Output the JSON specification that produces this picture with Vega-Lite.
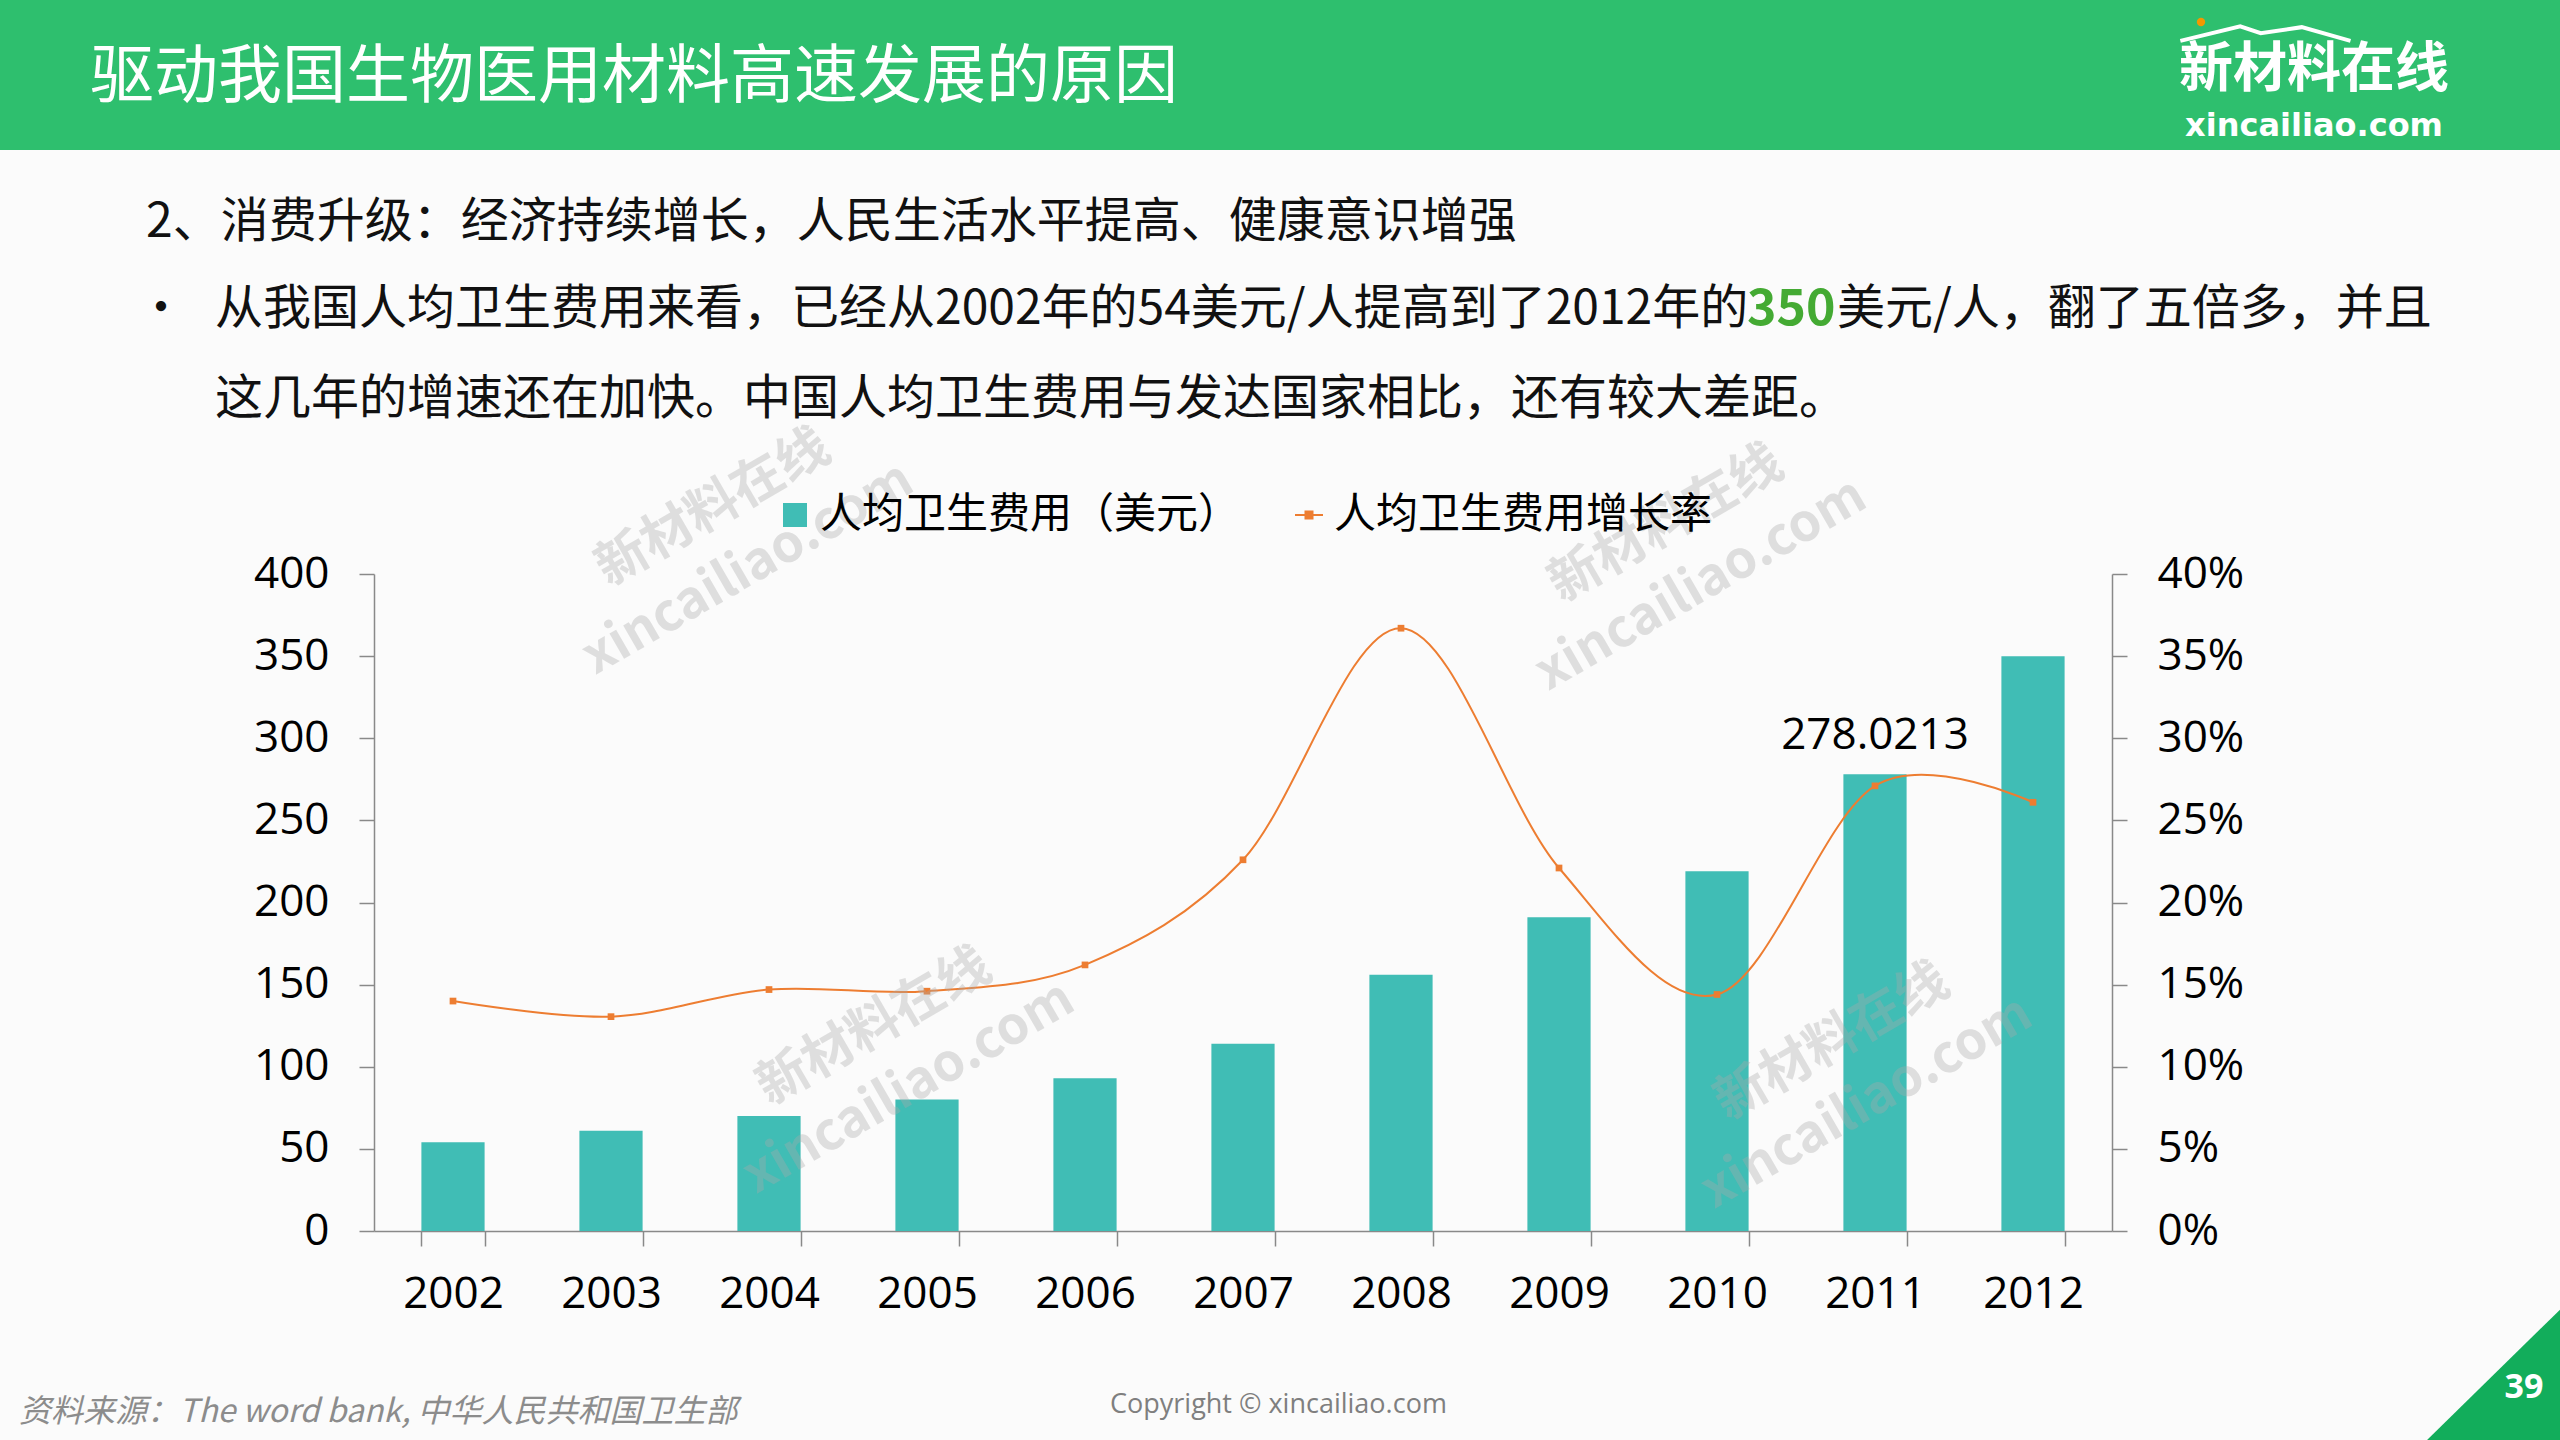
{
  "$schema": "https://vega.github.io/schema/vega-lite/v6.json",
  "width": 1738,
  "height": 657,
  "autosize": {"type": "none"},
  "padding": {"left": 374, "top": 574, "right": 448, "bottom": 209},
  "background": "#FBFBFB",
  "config": {"view": {"stroke": null}, "font": "Noto Sans CJK SC", "axis": {"grid": false}},
  "datasets": {
    "health": [
      {"year": "2002", "cost": 54, "rate": 0.140},
      {"year": "2003", "cost": 61, "rate": 0.1305},
      {"year": "2004", "cost": 70, "rate": 0.147},
      {"year": "2005", "cost": 80, "rate": 0.146},
      {"year": "2006", "cost": 93, "rate": 0.162},
      {"year": "2007", "cost": 114, "rate": 0.226},
      {"year": "2008", "cost": 156, "rate": 0.367},
      {"year": "2009", "cost": 191, "rate": 0.221},
      {"year": "2010", "cost": 219, "rate": 0.144},
      {"year": "2011", "cost": 278.0213, "rate": 0.271},
      {"year": "2012", "cost": 350, "rate": 0.261}
    ],
    "wm": [{"t": "新材料在线\nxincailiao.com"}]
  },
  "data": {"name": "health"},
  "layer": [
    {"data": {"values": [{}]}, "mark": {"type": "rect", "x": -374, "x2": 2186, "y": -574, "y2": -424, "color": "#2EBF6E"}, "encoding": {}},
    {"data": {"values": [{"t": "驱动我国生物医用材料高速发展的原因"}]}, "mark": {"type": "text", "x": -284, "y": -496, "align": "left", "baseline": "middle", "fontSize": 64, "color": "#FFFFFF"}, "encoding": {"text": {"field": "t"}}},
    {"data": {"values": [{"t": "新材料在线"}]}, "mark": {"type": "text", "x": 1940, "y": -503, "align": "center", "baseline": "middle", "fontSize": 54, "fontWeight": "bold", "color": "#FFFFFF"}, "encoding": {"text": {"field": "t"}}},
    {"data": {"values": [{"t": "xincailiao.com"}]}, "mark": {"type": "text", "x": 1940, "y": -448, "align": "center", "baseline": "middle", "fontSize": 32, "fontWeight": "bold", "font": "DejaVu Sans", "color": "#FFFFFF"}, "encoding": {"text": {"field": "t"}}},
    {"data": {"values": [{}]}, "mark": {"type": "point", "x": 1891, "y": -540, "shape": "M-0.99,0.08L-0.29,-0.09L-0.05,-0.01L0.43,-0.08L1.0,0.08", "size": 29241, "filled": false, "stroke": "#FFFFFF", "strokeWidth": 4, "opacity": 1}, "encoding": {}},
    {"data": {"values": [{}]}, "mark": {"type": "point", "x": 1827, "y": -552, "shape": "circle", "size": 70, "filled": true, "color": "#F39800", "opacity": 1}, "encoding": {}},
    {"data": {"values": [{"t": "2、消费升级：经济持续增长，人民生活水平提高、健康意识增强"}]}, "mark": {"type": "text", "x": -228, "y": -351, "align": "left", "baseline": "middle", "fontSize": 48, "color": "#111111"}, "encoding": {"text": {"field": "t"}}},
    {"data": {"values": [{"t": "•"}]}, "mark": {"type": "text", "x": -213, "y": -264, "align": "center", "baseline": "middle", "fontSize": 48, "color": "#111111"}, "encoding": {"text": {"field": "t"}}},
    {"data": {"values": [{"t": "从我国人均卫生费用来看，已经从2002年的54美元/人提高到了2012年的"}]}, "mark": {"type": "text", "x": -159, "y": -264, "align": "left", "baseline": "middle", "fontSize": 48, "color": "#111111"}, "encoding": {"text": {"field": "t"}}},
    {"data": {"values": [{"t": "350"}]}, "mark": {"type": "text", "x": 1373, "y": -264, "align": "left", "baseline": "middle", "fontSize": 50, "fontWeight": "bold", "color": "#44AA33"}, "encoding": {"text": {"field": "t"}}},
    {"data": {"values": [{"t": "美元/人，翻了五倍多，并且"}]}, "mark": {"type": "text", "x": 1463, "y": -264, "align": "left", "baseline": "middle", "fontSize": 48, "color": "#111111"}, "encoding": {"text": {"field": "t"}}},
    {"data": {"values": [{"t": "这几年的增速还在加快。中国人均卫生费用与发达国家相比，还有较大差距。"}]}, "mark": {"type": "text", "x": -159, "y": -174, "align": "left", "baseline": "middle", "fontSize": 48, "color": "#111111"}, "encoding": {"text": {"field": "t"}}},
    {
      "layer": [
        {
          "mark": {"type": "bar"},
          "encoding": {
            "fill": {"datum": "人均卫生费用（美元）", "type": "nominal", "scale": {"range": ["#40BDB5"]},
              "legend": {"orient": "none", "legendX": 400, "legendY": -80, "title": null, "symbolType": "square", "symbolSize": 576, "symbolStrokeWidth": 0, "labelFontSize": 42, "labelFont": "Noto Sans CJK SC", "labelColor": "#000000", "padding": 0, "labelOffset": 4, "labelLimit": 0}}
          }
        },
        {
          "transform": [{"filter": "datum.year == '2011'"}],
          "mark": {"type": "text", "fontSize": 44, "font": "Open Sans", "baseline": "alphabetic", "dy": -25, "color": "#000000"},
          "encoding": {"text": {"field": "cost", "type": "quantitative", "format": ".4f"}}
        }
      ],
      "encoding": {
        "x": {"field": "year", "type": "ordinal", "scale": {"paddingInner": 0.6, "paddingOuter": 0.3},
          "axis": {"title": null, "labelAngle": 0, "tickBand": "extent", "tickSize": 15, "tickWidth": 1.5, "tickColor": "#898989", "domainColor": "#898989", "domainWidth": 1.5, "labelFontSize": 44, "labelFont": "Open Sans", "labelColor": "#000000", "labelPadding": 26}},
        "y": {"field": "cost", "type": "quantitative", "scale": {"domain": [0, 400], "nice": false},
          "axis": {"orient": "left", "title": null, "values": [0, 50, 100, 150, 200, 250, 300, 350, 400], "tickSize": 15, "tickWidth": 1.5, "tickColor": "#898989", "domainColor": "#898989", "domainWidth": 1.5, "labelFontSize": 44, "labelFont": "Open Sans", "labelColor": "#000000", "labelPadding": 30}}
      }
    },
    {
      "layer": [
        {
          "mark": {"type": "line", "interpolate": "cardinal", "tension": 0, "strokeWidth": 2},
          "encoding": {
            "stroke": {"datum": "人均卫生费用增长率", "type": "nominal", "scale": {"range": ["#ED7D31"]},
              "legend": {"orient": "none", "legendX": 914, "legendY": -80, "title": null, "symbolType": "M-1,0L1,0M-0.25,-0.25L0.25,-0.25L0.25,0.25L-0.25,0.25Z", "symbolSize": 784, "symbolStrokeWidth": 2, "symbolFillColor": "#ED7D31", "labelFontSize": 42, "labelFont": "Noto Sans CJK SC", "labelColor": "#000000", "padding": 0, "labelOffset": 4, "labelLimit": 0}}
          }
        },
        {
          "mark": {"type": "point", "shape": "square", "size": 45, "filled": true, "color": "#ED7D31", "opacity": 1}
        }
      ],
      "encoding": {
        "x": {"field": "year", "type": "ordinal", "scale": {"paddingInner": 0.6, "paddingOuter": 0.3},
          "axis": {"title": null, "labelAngle": 0, "tickBand": "extent", "tickSize": 15, "tickWidth": 1.5, "tickColor": "#898989", "domainColor": "#898989", "domainWidth": 1.5, "labelFontSize": 44, "labelFont": "Open Sans", "labelColor": "#000000", "labelPadding": 26}},
        "y": {"field": "rate", "type": "quantitative", "scale": {"domain": [0, 0.4], "nice": false},
          "axis": {"orient": "right", "title": null, "format": ".0%", "values": [0, 0.05, 0.1, 0.15, 0.2, 0.25, 0.3, 0.35, 0.4], "tickSize": 15, "tickWidth": 1.5, "tickColor": "#898989", "domainColor": "#898989", "domainWidth": 1.5, "labelFontSize": 44, "labelFont": "Open Sans", "labelColor": "#000000", "labelPadding": 30}}
      }
    },
    {"data": {"values": [{"t": "资料来源：The word bank, 中华人民共和国卫生部"}]}, "mark": {"type": "text", "x": -355, "y": 838, "align": "left", "baseline": "middle", "fontSize": 32, "fontStyle": "italic", "color": "#8C8C8C"}, "encoding": {"text": {"field": "t"}}},
    {"data": {"values": [{"t": "Copyright © xincailiao.com"}]}, "mark": {"type": "text", "x": 736, "y": 831, "align": "left", "baseline": "middle", "fontSize": 27, "font": "Open Sans", "color": "#7F7F7F"}, "encoding": {"text": {"field": "t"}}},
    {"data": {"values": [{}]}, "mark": {"type": "point", "x": 2119, "y": 800, "shape": "M1,-0.96L1,1L-1,1Z", "size": 18769, "filled": true, "color": "#12AD5B", "strokeWidth": 0, "opacity": 1}, "encoding": {}},
    {"data": {"values": [{"t": "39"}]}, "mark": {"type": "text", "x": 2150, "y": 814, "align": "center", "baseline": "middle", "fontSize": 34, "fontWeight": "bold", "font": "Open Sans", "color": "#FFFFFF"}, "encoding": {"text": {"field": "t"}}},
    {"data": {"name": "wm"}, "mark": {"type": "text", "x": 339, "y": -66, "angle": -30, "align": "center", "baseline": "middle", "lineBreak": "\n", "lineHeight": 70, "fontSize": 52, "fontWeight": "bold", "color": "#AAAAAA", "opacity": 0.35}, "encoding": {"text": {"field": "t"}}},
    {"data": {"name": "wm"}, "mark": {"type": "text", "x": 1292, "y": -50, "angle": -30, "align": "center", "baseline": "middle", "lineBreak": "\n", "lineHeight": 70, "fontSize": 52, "fontWeight": "bold", "color": "#AAAAAA", "opacity": 0.35}, "encoding": {"text": {"field": "t"}}},
    {"data": {"name": "wm"}, "mark": {"type": "text", "x": 500, "y": 453, "angle": -30, "align": "center", "baseline": "middle", "lineBreak": "\n", "lineHeight": 70, "fontSize": 52, "fontWeight": "bold", "color": "#AAAAAA", "opacity": 0.35}, "encoding": {"text": {"field": "t"}}},
    {"data": {"name": "wm"}, "mark": {"type": "text", "x": 1458, "y": 468, "angle": -30, "align": "center", "baseline": "middle", "lineBreak": "\n", "lineHeight": 70, "fontSize": 52, "fontWeight": "bold", "color": "#AAAAAA", "opacity": 0.35}, "encoding": {"text": {"field": "t"}}}
  ],
  "resolve": {"scale": {"y": "independent"}}
}
